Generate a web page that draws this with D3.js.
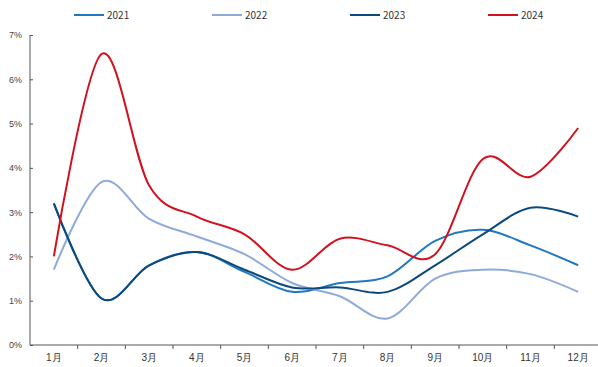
<!DOCTYPE html>
<html>
<head>
<meta charset="utf-8">
<script src="https://cdn.jsdelivr.net/npm/d3@7"></script>
<style>
  body { margin: 0; background: #fff; }
  svg { display: block; font-family: "Noto Sans CJK SC", "DejaVu Sans", sans-serif; }
</style>
</head>
<body>
<div class="main"></div>
<script>
// Months on the x axis
let months = ["1月","2月","3月","4月","5月","6月","7月","8月","9月","10月","11月","12月"];

// Series values (%)
let years = ["2021", "2022", "2023", "2024"];
let v2021 = [3.2, 1.05, 1.8, 2.1, 1.65, 1.2, 1.4, 1.55, 2.35, 2.6, 2.25, 1.8];
let v2022 = [1.7, 3.68, 2.85, 2.45, 2.05, 1.4, 1.1, 0.6, 1.5, 1.7, 1.6, 1.2];
let v2023 = [3.2, 1.05, 1.8, 2.1, 1.7, 1.3, 1.3, 1.2, 1.8, 2.5, 3.1, 2.9];
let v2024 = [2.0, 6.57, 3.6, 2.9, 2.5, 1.7, 2.4, 2.25, 2.05, 4.2, 3.8, 4.9];

// y ticks
let yTicks = [0, 1, 2, 3, 4, 5, 6, 7];

let colors = ["#1f78c1", "#8eaadb", "#0c4a7d", "#d2111f"];
let series = [v2021, v2022, v2023, v2024];

let width = 598, height = 367;
let svg = d3.select("div.main").append("svg")
    .attr("width", width)
    .attr("height", height);

let plotLeft = 30, plotRight = 602, plotTop = 35, plotBottom = 345;

let x = d3.scaleBand().domain(months).range([plotLeft, plotRight]);
let y = d3.scaleLinear().domain([0, 7]).range([plotBottom, plotTop]);

// x axis: ticks between months, pointing down
let xAxis = svg.append("g")
    .attr("transform", "translate(0," + plotBottom + ")")
    .call(d3.axisBottom(x).tickSize(0).tickPadding(9));
xAxis.select(".domain").attr("stroke", "#555").attr("d", "M" + plotLeft + ",0H" + plotRight);
xAxis.selectAll("text").attr("font-size", 10).attr("fill", "#333");
xAxis.selectAll(".sep")
    .data(months.slice(1))
    .enter().append("line")
    .attr("class", "sep")
    .attr("x1", d => x(d)).attr("x2", d => x(d))
    .attr("y1", 0).attr("y2", 4)
    .attr("stroke", "#555");

// y axis: ticks pointing inward
let yAxis = svg.append("g")
    .attr("transform", "translate(" + plotLeft + ",0)")
    .call(d3.axisRight(y).tickValues(yTicks).tickSize(3).tickFormat(d => d + "%"));
yAxis.select(".domain").attr("stroke", "#555").attr("d", "M0," + plotTop + "V" + plotBottom);
yAxis.selectAll(".tick line").attr("stroke", "#555");
yAxis.selectAll("text")
    .attr("x", -8)
    .attr("text-anchor", "end")
    .attr("font-size", 9)
    .attr("fill", "#444");

// lines
let line = d3.line()
    .x((d, i) => x(months[i]) + x.bandwidth() / 2)
    .y(d => y(d))
    .curve(d3.curveCatmullRom.alpha(0));

series.forEach(function(s, k) {
    svg.append("path")
        .datum(s)
        .attr("fill", "none")
        .attr("stroke", colors[k])
        .attr("stroke-width", 2)
        .attr("d", line);
});

// legend
let legend = svg.append("g").attr("transform", "translate(74,15)");
years.forEach(function(yr, k) {
    let g = legend.append("g").attr("transform", "translate(" + (k * 138) + ",0)");
    g.append("line")
        .attr("x1", 0).attr("x2", 30)
        .attr("stroke", colors[k]).attr("stroke-width", 2);
    g.append("text")
        .attr("x", 33).attr("y", 4)
        .attr("font-size", 10)
        .attr("fill", "#333")
        .text(yr);
});
</script>
</body>
</html>
